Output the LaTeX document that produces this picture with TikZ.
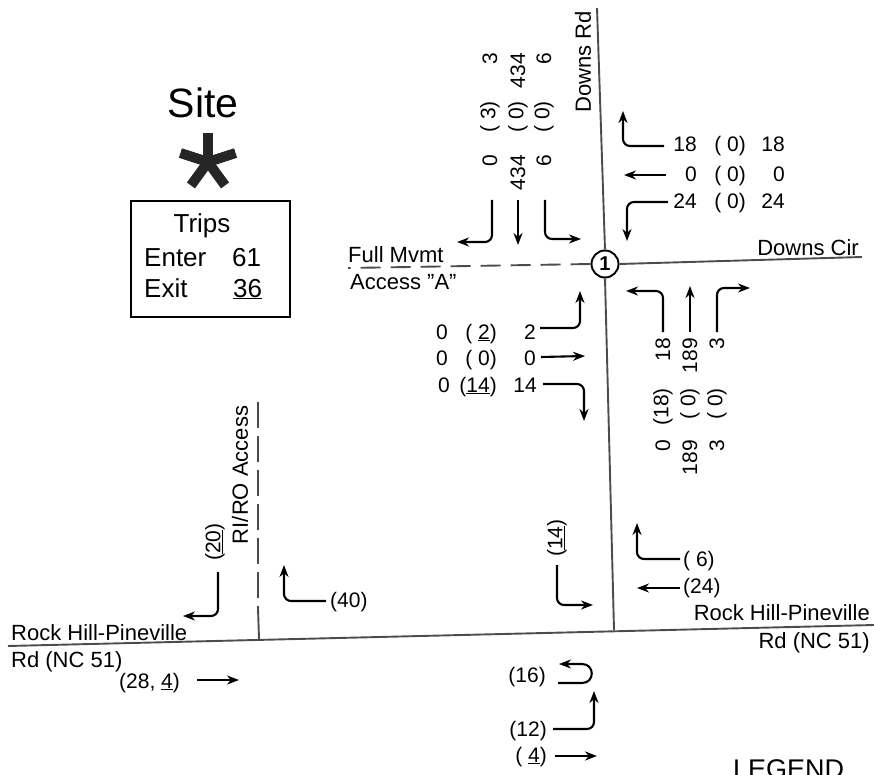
\documentclass[tikz,border=0pt]{standalone}
\usepackage{fontspec}
\setmainfont{Liberation Sans}
\usetikzlibrary{arrows.meta}
\begin{document}
\begin{tikzpicture}[x=1pt,y=-1pt,
  road/.style={line width=1.9pt, black!70},
  flow/.style={line width=2.1pt, rounded corners=7pt, -{Stealth[length=12pt,width=9pt]}},
  num/.style={font=\fontsize{21}{23}\selectfont, inner sep=0pt},
  lbl/.style={font=\fontsize{22}{24}\selectfont, inner sep=0pt},
  boxtxt/.style={font=\fontsize{26}{28}\selectfont, inner sep=0pt},
  vnum/.style={num, rotate=90, anchor=east}]
\useasboundingbox (0,0) rectangle (874,775);
\clip (0,0) rectangle (874,775);

% ---------- roads ----------
\node[circle, draw, line width=1.9pt, minimum size=27pt, inner sep=0pt,
      font=\fontsize{20}{22}\selectfont\bfseries] (int1) at (605,264) {1};
\coordinate (dTop) at (597,8);
\coordinate (dBot) at (614,630);
\coordinate (cEnd) at (862,257);
\coordinate (aEnd) at (348,268);
\draw[road] (dTop) -- (int1.north);
\draw[road] (int1.south) -- (dBot);
\draw[road] (int1.east) -- (cEnd);
\draw[road, dash pattern=on 20pt off 10pt] (int1.west) -- (aEnd);
\coordinate (rL) at (8,646);
\coordinate (rR) at (874,625);
\draw[road] (rL) -- (rR);
\coordinate (riTop) at (258,402);
\coordinate (riMid) at (258,608);
\coordinate (riBot) at (259,639);
\draw[road, dash pattern=on 26pt off 8pt] (riTop) -- (riMid);
\draw[road] (riMid) -- (riBot);

% ---------- road labels ----------
\node[lbl, rotate=90] (downsrd) at (583,62) {Downs Rd};
\node[lbl, anchor=base east] (downscir) at (859,256) {Downs Cir};
\node[lbl, anchor=base west] (fullmv) at (348,262) {Full Mvmt};
\node[lbl, anchor=base west] (accA) at (350,289) {Access "A"};
\node[lbl, rotate=90] (riro) at (240,475) {RI/RO Access};
\node[lbl, anchor=base west] (rhpL1) at (11,640) {Rock Hill-Pineville};
\node[lbl, anchor=base west] (rhpL2) at (11,667) {Rd (NC 51)};
\node[lbl, anchor=base east] (rhpR1) at (870,620) {Rock Hill-Pineville};
\node[lbl, anchor=base east] (rhpR2) at (870,648) {Rd (NC 51)};

% ---------- site ----------
\node[font=\fontsize{41}{44}\selectfont, inner sep=0pt, anchor=base] (site) at (203,118) {Site};
\coordinate (star) at (208,162);
\foreach \a in {90,18,162,234,306}
  \draw[line width=10pt, black!85] (star) -- ++({29*cos(\a)},{-29*sin(\a)});
\node[draw, line width=1.5pt, minimum width=159pt, minimum height=116pt, inner sep=0pt]
  (tripbox) at (210.5,259) {};
\node[boxtxt, anchor=base] (trips) at (202,233) {Trips};
\node[boxtxt, anchor=base west] (enter) at (144,267) {Enter};
\node[boxtxt, anchor=base west] (enterN) at (232,267) {61};
\node[boxtxt, anchor=base west] (exit) at (144,297) {Exit};
\node[boxtxt, anchor=base west] (exitN) at (233,297) {\underline{36}};

% ---------- southbound (top) ----------
\node[vnum] (sb1a) at (490,155) {0};
\node[vnum] (sb1b) at (490,101) {( 3)};
\node[vnum] (sb1c) at (490,53) {3};
\node[vnum] (sb2a) at (518,155) {434};
\node[vnum] (sb2b) at (518,101) {( 0)};
\node[vnum] (sb2c) at (518,53) {434};
\node[vnum] (sb3a) at (544,155) {6};
\node[vnum] (sb3b) at (544,101) {( 0)};
\node[vnum] (sb3c) at (544,53) {6};
\draw[flow] (492,200) -- (492,242) -- (457,242);
\draw[flow] (518,200) -- (518,245);
\draw[flow] (545,200) -- (545,239) -- (581,239);

% ---------- westbound (right top) ----------
\foreach \y/\a/\c [count=\i] in {152/18/18, 182/0/0, 209/24/24}{
  \node[num, anchor=base east] (wb\i a) at (697,\y) {\a};
  \node[num, anchor=base east] (wb\i b) at (746,\y) {( 0)};
  \node[num, anchor=base east] (wb\i c) at (785,\y) {\c};
}
\draw[flow] (664,146) -- (623,146) -- (623,111);
\draw[flow] (666,175) -- (624,175);
\draw[flow] (668,202) -- (627,202) -- (627,241);

% ---------- eastbound (left) ----------
\node[num, anchor=base east] (eb1a) at (448,339) {0};
\node[num, anchor=base east] (eb1b) at (497,339) {( \underline{2})};
\node[num, anchor=base east] (eb1c) at (536,339) {2};
\node[num, anchor=base east] (eb2a) at (448,365) {0};
\node[num, anchor=base east] (eb2b) at (497,365) {( 0)};
\node[num, anchor=base east] (eb2c) at (536,365) {0};
\node[num, anchor=base east] (eb3a) at (450,392) {0};
\node[num, anchor=base east] (eb3b) at (497,392) {(\underline{14})};
\node[num, anchor=base east] (eb3c) at (537,392) {14};
\draw[flow] (540,328) -- (580,328) -- (580,291);
\draw[flow] (541,357) -- (585,356);
\draw[flow] (543,384) -- (584,384) -- (584,421);

% ---------- northbound (right) ----------
\node[vnum] (nb1a) at (663,440) {0};
\node[vnum] (nb1b) at (663,388) {(18)};
\node[vnum] (nb1c) at (663,338) {18};
\node[vnum] (nb2a) at (690,440) {189};
\node[vnum] (nb2b) at (690,388) {( 0)};
\node[vnum] (nb2c) at (690,338) {189};
\node[vnum] (nb3a) at (717,440) {3};
\node[vnum] (nb3b) at (717,388) {( 0)};
\node[vnum] (nb3c) at (717,338) {3};
\draw[flow] (663,332) -- (663,291) -- (626,291);
\draw[flow] (690,332) -- (690,286);
\draw[flow] (717,332) -- (717,288) -- (750,288);

% ---------- Rock Hill-Pineville movements ----------
\node[num, rotate=90] (m20) at (215,542) {(\underline{20})};
\draw[flow] (218,572) -- (218,616) -- (183,616);
\node[num, anchor=base west] (m40) at (330,607) {(40)};
\draw[flow] (326,601) -- (284,601) -- (284,565);
\node[num, anchor=base west] (m28) at (119,688) {(28, \underline{4})};
\draw[flow] (197,680) -- (239,680);

\node[num, rotate=90] (m14) at (557,538) {(\underline{14})};
\draw[flow] (557,565) -- (557,605) -- (593,605);

\node[num, anchor=base east] (m16) at (546,682) {(16)};
\draw[line width=2.1pt, -{Stealth[length=12pt,width=9pt]}]
  (558,683) -- (582,683) .. controls (595,683) and (595,664) .. (582,664) -- (559,664);
\node[num, anchor=base east] (m12) at (547,736) {(12)};
\draw[flow] (553,729) -- (594,729) -- (594,691);
\node[num, anchor=base east] (m4) at (547,762) {( \underline{4})};
\draw[flow] (555,756) -- (597,756);

\node[num, anchor=base west] (m6) at (683,566) {( 6)};
\draw[flow] (680,559) -- (637,559) -- (637,523);
\node[num, anchor=base west] (m24) at (683,593) {(24)};
\draw[flow] (680,588) -- (637,588);

% ---------- legend (cut off by the lower edge, as in the reference) ----------
\node[font=\fontsize{27}{29}\selectfont, inner sep=0pt, anchor=base west] (legend) at (733,778) {LEGEND};
\end{tikzpicture}
\end{document}
